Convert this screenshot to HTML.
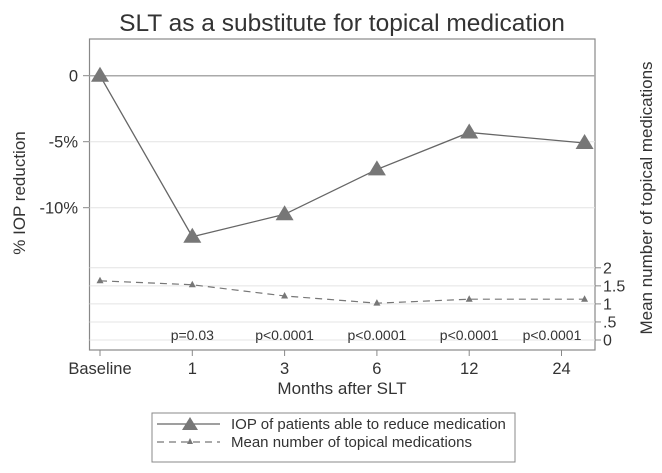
<!DOCTYPE html>
<html><head><meta charset="utf-8"><style>
body{margin:0;background:#fff;}
svg{display:block;font-family:"Liberation Sans",sans-serif;}
</style></head><body>
<svg width="662" height="473" viewBox="0 0 662 473">
<text x="342" y="31" text-anchor="middle" font-size="24.5" fill="#333">SLT as a substitute for topical medication</text>
<rect x="89.5" y="39" width="505.5" height="311" fill="none" stroke="#888" stroke-width="1.2"/>
<g id="grid"></g>
<g id="axes"></g>
<g id="series"></g>
<text transform="translate(25,193) rotate(-90)" text-anchor="middle" font-size="17" fill="#333">% IOP reduction</text>
<text transform="translate(652,198) rotate(-90)" text-anchor="middle" font-size="17" fill="#333">Mean number of topical medications</text>
<text x="342" y="394" text-anchor="middle" font-size="17" fill="#333">Months after SLT</text>
<g>
<rect x="152" y="413" width="363" height="49" fill="#fff" stroke="#888"/>
<line x1="157" y1="424" x2="220" y2="424" stroke="#666" stroke-width="1.3"/>
<polygon points="190,417 198,430 182,430" fill="#777"/>
<text x="231" y="429" font-size="15" fill="#333">IOP of patients able to reduce medication</text>
<line x1="157" y1="442" x2="220" y2="442" stroke="#777" stroke-width="1.2" stroke-dasharray="7,5"/>
<polygon points="190,438 193,444 187,444" fill="#777"/>
<text x="231" y="447" font-size="15" fill="#333">Mean number of topical medications</text>
</g>
</svg>
<script>
const categories=["Baseline","1","3","6","12","24"];
const iopValues=[0,-12.2,-10.5,-7.1,-4.3,-5.1];
const medValues=[1.64,1.53,1.22,1.02,1.13,1.13];
const pValues=["","p=0.03","p<0.0001","p<0.0001","p<0.0001","p<0.0001"];
const leftTicks=[0,-5,-10];
const leftTickLabels=["0","-5%","-10%"];
const rightTicks=[0,0.5,1,1.5,2];
const rightTickLabels=["0",".5","1","1.5","2"];
const pointIndex=[0,1,2,3,4,5.25];

const NS="http://www.w3.org/2000/svg";
function xs(i){return 100+i*92.3;}
function yl(v){return 75.7-v*13.2;}
function yr(v){return 340-v*36.1;}
function mk(tag,attrs,parent){const e=document.createElementNS(NS,tag);for(const k in attrs)e.setAttribute(k,attrs[k]);document.getElementById(parent).appendChild(e);return e;}
leftTicks.forEach((v,i)=>{
 const g=mk('line',{x1:89.5,x2:595,y1:yl(v),y2:yl(v),stroke:v===0?'#aaa':'#e4e4e4','stroke-width':v===0?1.5:1},'grid');
 
 
 mk('line',{x1:83,x2:89.5,y1:yl(v),y2:yl(v),stroke:'#888'},'axes');
 const t=mk('text',{x:78,y:yl(v)+6,'text-anchor':'end','font-size':16.5,fill:'#333'},'axes');
 t.textContent=leftTickLabels[i];
 
 
});
rightTicks.forEach((v,i)=>{
 const g=mk('line',{x1:89.5,x2:595,y1:yr(v),y2:yr(v),stroke:'#e4e4e4'},'grid');
 
 
 mk('line',{x1:595,x2:601,y1:yr(v),y2:yr(v),stroke:'#888'},'axes');
 const t=mk('text',{x:603,y:yr(v)+5.5,'font-size':16,fill:'#333'},'axes');
 t.textContent=rightTickLabels[i];
 
 
});
categories.forEach((c,i)=>{
 mk('line',{x1:xs(i),x2:xs(i),y1:350,y2:356,stroke:'#888'},'axes');
 const t=mk('text',{x:xs(i),y:374,'text-anchor':'middle','font-size':16.5,fill:'#333'},'axes');
 t.textContent=c;
 
 
 if(pValues[i]){
  const p=mk('text',{x:i===5?552:xs(i),y:340,'text-anchor':'middle','font-size':14,fill:'#333'},'axes');
  p.textContent=pValues[i];
  
  
 }
});
const iopPts=iopValues.map((v,i)=>xs(pointIndex[i])+','+yl(v)).join(' ');
const l1=mk('polyline',{points:iopPts,fill:'none',stroke:'#666','stroke-width':1.3},'series');


iopValues.forEach((v,i)=>{
 const x=xs(pointIndex[i]),y=yl(v);
 const m=mk('polygon',{points:`${x},${y-9} ${x+9},${y+6} ${x-9},${y+6}`,fill:'#777'},'series');
 
 
});
const medPts=medValues.map((v,i)=>xs(pointIndex[i])+','+yr(v)).join(' ');
const l2=mk('polyline',{points:medPts,fill:'none',stroke:'#777','stroke-width':1.2,'stroke-dasharray':'7,5'},'series');


medValues.forEach((v,i)=>{
 const x=xs(pointIndex[i]),y=yr(v);
 const m=mk('polygon',{points:`${x},${y-4} ${x+3.5},${y+2.5} ${x-3.5},${y+2.5}`,fill:'#777'},'series');
 
 
});
</script>
</body></html>
